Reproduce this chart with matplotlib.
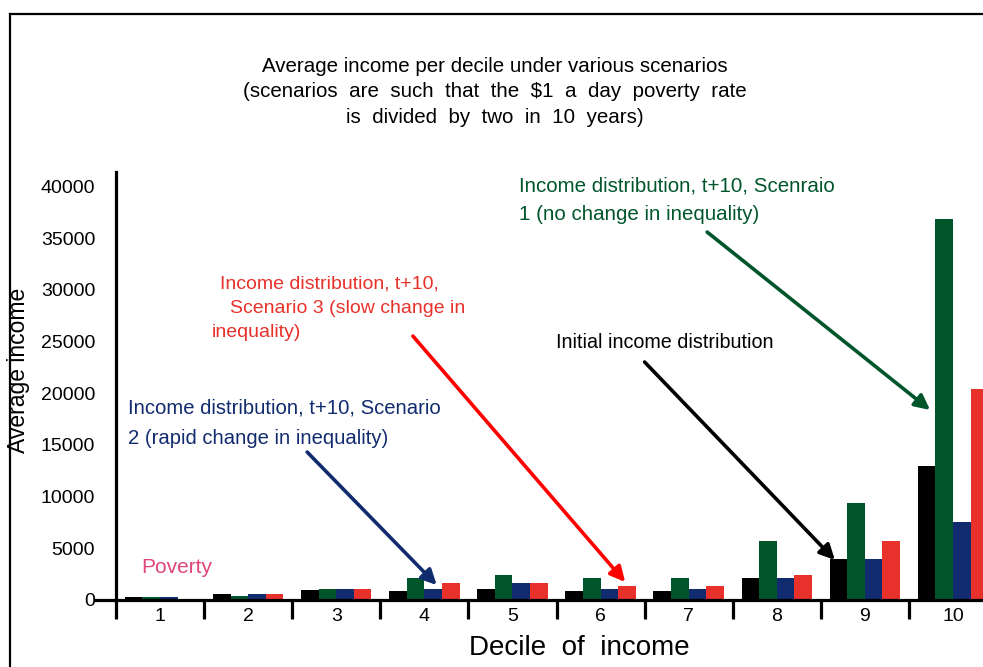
import matplotlib
matplotlib.use("Agg")
import matplotlib.pyplot as plt
import numpy as np

plt.rcParams['font.family'] = ['Liberation Sans']

# data
deciles = ['1', '2', '3', '4', '5', '6', '7', '8', '9', '10']
initial = [250, 600, 1000, 870, 1100, 870, 870, 2100, 3950, 12950]
scen1 = [250, 400, 1050, 2100, 2400, 2100, 2100, 5700, 9400, 36900]
scen2 = [250, 550, 1050, 1050, 1650, 1050, 1050, 2100, 3950, 7540]
scen3 = [100, 550, 1050, 1650, 1650, 1350, 1350, 2400, 5700, 20400]
yticks = [0, 5000, 10000, 15000, 20000, 25000, 30000, 35000, 40000]

c_black = '#000000'
c_green = '#00552B'
c_blue = '#112B6F'
c_red = '#E8312A'

fig = plt.figure(figsize=(9.83, 6.67), dpi=100)
ax = fig.add_axes([116 / 983, 67 / 667, 881 / 983, 428 / 667])

x = np.arange(len(deciles))
w = 0.2
series = [(initial, c_black), (scen1, c_green), (scen2, c_blue), (scen3, c_red)]
for k, (vals, col) in enumerate(series):
    ax.bar(x + (k - 1.5) * w, vals, width=w, color=col, linewidth=0)

ax.set_xlim(-0.5, 9.5)
ax.set_ylim(0, 41400)

for s in ['top', 'right']:
    ax.spines[s].set_visible(False)
ax.spines['left'].set_linewidth(2.3)
ax.spines['bottom'].set_linewidth(2.3)

# boundaries as major ticks, labels on minor ticks
ax.set_xticks(np.arange(-0.5, 9.6, 1.0))
ax.set_xticklabels([])
ax.tick_params(axis='x', which='major', length=14, width=2.3, direction='out')
ax.set_xticks(x, minor=True)
ax.set_xticklabels(deciles, minor=True, fontsize=14)
ax.tick_params(axis='x', which='minor', length=0, pad=6)

ax.set_yticks(yticks)
ax.set_yticklabels([str(v) for v in yticks], fontsize=14)
ax.tick_params(axis='y', length=0, pad=15)

# small stub of the x-axis left of the y-axis
ax.plot([-0.024, 0], [0, 0], transform=ax.transAxes, color='black', lw=2.3, clip_on=False)

fig.text(579 / 983, 1 - 648 / 667, 'Decile  of  income', fontsize=20, ha='center', va='center')
fig.text(19 / 983, 1 - 370 / 667, 'Average income', rotation=90, fontsize=16.5,
         ha='center', va='center')

fig.text(495 / 983, 1 - 57 / 667,
         'Average income per decile under various scenarios\n'
         '(scenarios  are  such  that  the  $1  a  day  poverty  rate\n'
         'is  divided  by  two  in  10  years)',
         ha='center', va='top', fontsize=14.8, linespacing=1.42)

# annotations
ax.text(4.07, 40950, 'Income distribution, t+10, Scenraio\n1 (no change in inequality)',
        color=c_green, fontsize=14.8, va='top', ha='left', linespacing=1.6)
red_lines = [(0.68, 30560, 'Income distribution, t+10,'),
             (0.79, 28190, 'Scenario 3 (slow change in'),
             (0.59, 25870, 'inequality)')]
for xr, yr, s in red_lines:
    ax.text(xr, yr, s, color=c_red, fontsize=14, va='center', ha='left')
ax.text(-0.36, 19450, 'Income distribution, t+10, Scenario\n2 (rapid change in inequality)',
        color=c_blue, fontsize=14.6, va='top', ha='left', linespacing=1.72)
ax.text(4.49, 24950, 'Initial income distribution', color='black', fontsize=14.2,
        va='center', ha='left')
ax.text(-0.21, 3100, 'Poverty', color='#E0457B', fontsize=15, va='center', ha='left')

arrows = [((6.21, 35590), (8.74, 18380), c_green),
          ((2.87, 25530), (5.28, 1740), '#FF0000'),
          ((1.67, 14310), (3.14, 1450), c_blue),
          ((5.50, 23020), (7.66, 3870), c_black)]
for tail, tip, col in arrows:
    ax.annotate('', xy=tip, xytext=tail,
                arrowprops=dict(arrowstyle='-|>,head_length=0.9,head_width=0.45',
                                color=col, lw=2.6, shrinkA=0, shrinkB=0))

# frame around the figure (left and top visible)
fig.add_artist(plt.Line2D([10 / 983, 10 / 983], [0, 1 - 14 / 667], color='black', lw=1.6))
fig.add_artist(plt.Line2D([10 / 983, 1], [1 - 14 / 667, 1 - 14 / 667], color='black', lw=1.6))

fig.savefig('out.png', dpi=100)
